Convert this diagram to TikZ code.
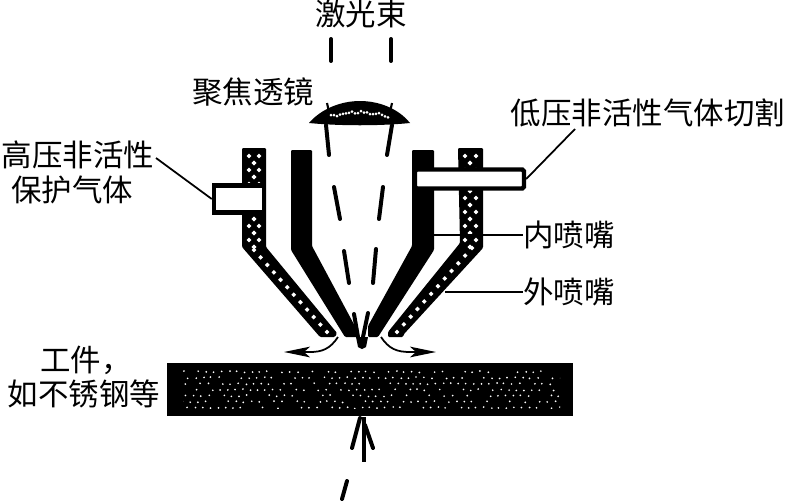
\documentclass[tikz,border=0pt]{standalone}
\usepackage{fontspec}
\newfontfamily\cjkfont{Noto Sans CJK SC}
\usetikzlibrary{positioning, arrows.meta, calc}
\tikzset{
  lbl/.style={font=\fontsize{26}{30}\selectfont\cjkfont, text=black, inner sep=0pt, align=center},
  beam/.style={line width=3.4pt, line cap=round, black},
  leader/.style={line width=1.5pt, black},
  flow/.style={-{Stealth[length=7.8mm, width=3.2mm, inset=1.8mm]}, line width=1.5pt, black},
  tube/.style={draw=black, fill=white, line width=3.8pt, inner sep=0pt}
}
% row of white dots between two points
\newcommand{\drawdots}[5]{
  \foreach \t in {0,...,#5} {
    \fill[white] ($(#1,#2)!{\t/#5}!(#3,#4)$) +(-2.4,0) -- +(0,-2.4) -- +(2.4,0) -- +(0,2.4) -- cycle;
  }
}
\begin{document}
\begin{tikzpicture}[x=0.03cm, y=-0.03cm]
\useasboundingbox (0,0) rectangle (788,501);

% Lens
\fill[black] (309,123) .. controls (322,108) and (342,101) .. (360,101) .. controls (378,101) and (398,108) .. (410,123) .. controls (380,126) and (340,126) .. (309,123) -- cycle;
\pgfmathsetseed{3}
\foreach \i in {0,...,19} {
  \pgfmathsetmacro{\dotx}{331+3*\i}
  \pgfmathsetmacro{\doty}{115-4*sin(9.5*\i)+rnd*2.5}
  \fill[white] (\dotx,\doty) circle (1.5);
}
\draw[line width=1.8pt] (327,103) -- (329,112);
\draw[line width=1.8pt] (392,103) -- (390,112);

% Inner nozzle
\fill[black, rounded corners=1pt] (291,150) -- (312,150) -- (312,246) -- (357,330) -- (357,337) -- (345,337) -- (291,250) -- cycle;
\fill[black, rounded corners=1pt] (412,150) -- (434,150) -- (434,250) -- (378,337) -- (368,337) -- (368,326) -- (412,246) -- cycle;

% Outer nozzle
\fill[black, rounded corners=1pt] (242,148) -- (266,148) -- (266,247) -- (337,333) -- (335,337) -- (320,337) -- (242,247) -- cycle;
\fill[black, rounded corners=1pt] (458,148) -- (483,148) -- (483,248) -- (404,334) -- (403,337) -- (388,337) -- (388,332) -- (460,243) -- cycle;

% Hatching of outer nozzle
\foreach \y in {156,170,...,240} {
  \drawdots{249}{\y}{259}{\y}{1}
  \drawdots{254}{\y+7}{254}{\y+7}{1}
  \drawdots{465}{\y}{476}{\y}{1}
  \drawdots{470}{\y+7}{470}{\y+7}{1}
}
\drawdots{254}{250}{327}{332}{11}
\drawdots{472}{248}{397}{332}{11}

% Gas inlets
\node[tube, minimum width=1.5cm, minimum height=0.8cm] (inletL) at (239,199) {};
\node[tube, rounded corners=1.5pt, minimum width=3.27cm, minimum height=0.57cm] (inletR) at (469.5,179) {};

% Beam
\draw[beam] (331,39) -- (331,61);
\draw[beam] (391,39) -- (391,61);
\draw[beam] (326,125) -- (329,155);
\draw[beam] (392,125) -- (387,155);
\draw[beam] (334,187) -- (340,219);
\draw[beam] (383,187) -- (379,219);
\draw[beam] (344,251) -- (349,283);
\draw[beam] (376,249) -- (373,283);
\draw[beam] (354,314) -- (358,337);
\draw[beam] (368,313) -- (363,337);
\fill[black] (356,337) -- (368,337) -- (366,347) -- (362,349) -- (358,347) -- cycle;

% Workpiece
\node[fill=black, inner sep=0pt, minimum width=12.18cm, minimum height=1.59cm] (work) at (370,389.5) {};
\begin{scope}
\clip (183,369) rectangle (560,408);
\pgfmathsetseed{7}
\foreach \i in {-8,...,50} {
  \foreach \j in {0,...,6} {
    \pgfmathsetmacro{\dotx}{183+7.6*\i+4.4*\j+rnd*1.5}
    \pgfmathsetmacro{\doty}{371+6*\j+rnd*1.5}
    \pgfmathparse{rnd>0.3 ? 1 : 0}
    \ifnum\pgfmathresult=1
      \fill[white] (\dotx,\doty) circle (0.95);
    \fi
  }
}
\end{scope}

% Flow of gas
\coordinate (flowL) at (338,337);
\coordinate (flowR) at (381,337);
\coordinate (tipL) at (284,352);
\coordinate (tipR) at (436,352);
\draw[flow] (flowL) .. controls (330,349) and (322,352) .. (310,352) -- (tipL);
\draw[flow] (flowR) .. controls (389,349) and (397,352) .. (410,352) -- (tipR);

% Beam below workpiece
\draw[line width=3pt] (364,417) -- (364,462);
\draw[beam] (360,418) -- (352,448);
\draw[beam] (365,425) -- (373,448);
\draw[beam] (347,481) -- (342,499);

% Labels
\node[lbl] (beamtxt) at (361,14) {激光束};
\node[lbl] (lenstxt) at (253,92) {聚焦透镜};
\node[lbl] (lowtxt) at (648,113) {低压非活性气体切割};
\node[lbl] (hightxt) at (78,155) {高压非活性};
\node[lbl] (protxt) at (72,190) {保护气体};
\node[lbl] (innertxt) at (569,235) {内喷嘴};
\node[lbl] (outertxt) at (569,292) {外喷嘴};
\node[lbl, anchor=west] (worktxt) at (40,360) {工件，};
\node[lbl] (steeltxt) at (84,394) {如不锈钢等};

% Leaders
\coordinate (innerend) at (433,235);
\coordinate (outerend) at (445,292);
\coordinate (lowend) at (575,129);
\coordinate (highend) at (156,158);
\draw[leader] (highend) -- (inletL.west);
\draw[leader] (inletR.east) -- (lowend);
\draw[leader] (innerend) -- (innertxt.west);
\draw[leader] (outerend) -- (outertxt.west);

\end{tikzpicture}
\end{document}
